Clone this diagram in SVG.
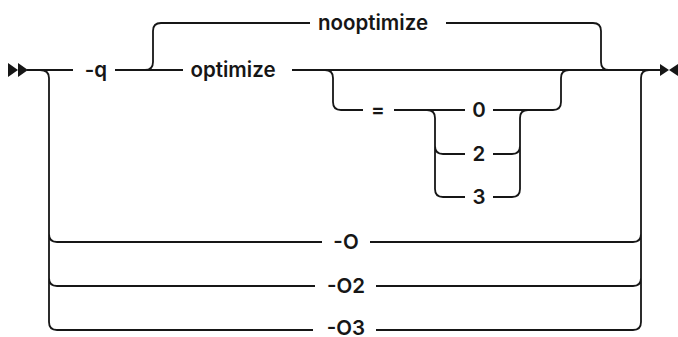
<svg xmlns="http://www.w3.org/2000/svg" width="678" height="337" viewBox="0 0 678 337">
<style>
.c{fill:none;stroke:#161616;stroke-width:1.8;stroke-linecap:butt}
.t{font-family:Inter,"Liberation Sans",sans-serif;font-size:20.5px;font-weight:600;fill:#161616;text-anchor:middle}
.a{fill:#161616}
</style>
<rect width="678" height="337" fill="#fff"/>
<g id="connectors">
<path class="c" d="M27,70 H73 M115,70 H183 M292,70 H660"/>
<path class="c" d="M145,70 Q153,70 153,62 V31 Q153,23 161,23 H310 M446,23 H593 Q601,23 601,31 V62 Q601,70 609,70"/>
<path class="c" d="M325,70 Q333,70 333,78 V102 Q333,110 341,110 H363 M394,110 H465 M493,110 H553 Q561,110 561,102 V78 Q561,70 569,70"/>
<path class="c" d="M427,110 Q435,110 435,118 V189 Q435,197 443,197 H465 M435,146 Q435,154 443,154 H465"/>
<path class="c" d="M493,154 H512 Q520,154 520,146 M493,197 H512 Q520,197 520,189 V118 Q520,110 528,110"/>
<path class="c" d="M40,70 Q49,70 49,78 V322 Q49,330 57,330 H313 M49,234 Q49,242 57,242 H322 M49,278 Q49,286 57,286 H315"/>
<path class="c" d="M370,242 H633 Q641,242 641,234 M376,286 H633 Q641,286 641,278 M376,330 H633 Q641,330 641,322 V78 Q641,70 649,70"/>
</g>
<g id="start"><polygon class="a" points="8,63 18,70 8,77"/><polygon class="a" points="18,63 28,70 18,77"/></g>
<g id="end"><polygon class="a" points="660,64 669,70 660,76"/><polygon class="a" points="678,64 669,70 678,76"/></g>
<g id="n-q"><text class="t" x="96" y="77">-q</text></g>
<g id="n-nooptimize"><text class="t" x="373" y="30">nooptimize</text></g>
<g id="n-optimize"><text class="t" x="233" y="77">optimize</text></g>
<g id="n-eq"><text class="t" x="378" y="117">=</text></g>
<g id="n-0"><text class="t" x="479" y="117">0</text></g>
<g id="n-2"><text class="t" x="479" y="161">2</text></g>
<g id="n-3"><text class="t" x="479" y="204">3</text></g>
<g id="n-O"><text class="t" x="346" y="249">-O</text></g>
<g id="n-O2"><text class="t" x="346" y="293">-O2</text></g>
<g id="n-O3"><text class="t" x="346" y="335">-O3</text></g>
</svg>
